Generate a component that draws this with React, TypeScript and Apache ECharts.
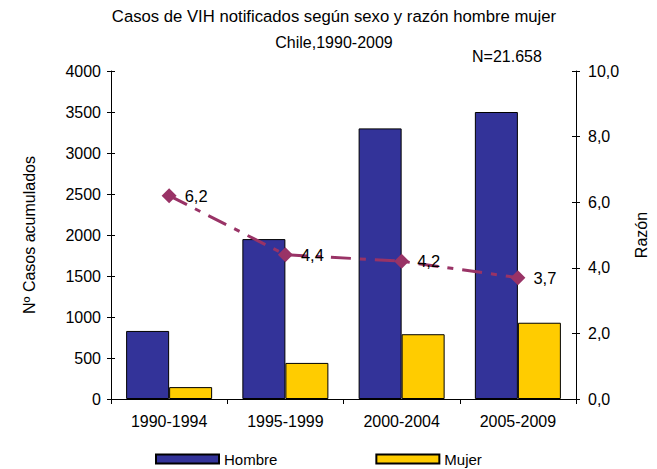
import React, { useEffect, useRef } from "react";
import * as echarts from "echarts";

const categories = ["1990-1994", "1995-1999", "2000-2004", "2005-2009"];
const hombre = [830, 1950, 3300, 3500];
const mujer = [145, 440, 790, 930];
const razon = [6.2, 4.4, 4.2, 3.7];
const titleLine1 = "Casos de VIH notificados según sexo y razón hombre mujer";
const titleLine2 = "Chile,1990-2009";
const nLabel = "N=21.658";

const FONT = "Liberation Sans, Arial, sans-serif";

export default function App() {
  const ref = useRef<HTMLDivElement>(null);
  useEffect(() => {
    document.body.style.margin = "0";
    const chart = echarts.init(ref.current!, null, { renderer: "svg" });
    const axisText = { color: "#000", fontSize: 16, fontFamily: FONT };
    const innerTicks = (pos: "left" | "right", max: number, interval: number) => ({
      type: "value",
      position: pos,
      min: 0,
      max,
      interval,
      axisLine: { show: false },
      axisTick: { show: true, inside: true, length: 4, lineStyle: { color: "#000" } },
      axisLabel: { show: false },
      splitLine: { show: false },
    });
    chart.setOption({
      animation: false,
      backgroundColor: "#fff",
      textStyle: { fontFamily: FONT },
      graphic: [
        { type: "text", x: 334, y: 8, style: { text: titleLine1, fontSize: 16.7, fontFamily: FONT, fill: "#000", textAlign: "center" } },
        { type: "text", x: 334, y: 34, style: { text: titleLine2, fontSize: 16, fontFamily: FONT, fill: "#000", textAlign: "center" } },
        { type: "text", x: 472, y: 48, style: { text: nLabel, fontSize: 16, fontFamily: FONT, fill: "#000" } },
      ],
      legend: {
        left: 155,
        top: 451,
        padding: 0,
        itemWidth: 63,
        itemHeight: 9,
        itemGap: 98,
        textStyle: { color: "#000", fontSize: 15, fontFamily: FONT, lineHeight: 16, padding: [0, 0, 0, 0] },
        data: [
          { name: "Hombre", icon: "rect" },
          { name: "Mujer", icon: "rect" },
        ],
      },
      grid: { left: 111, right: 79, top: 71, bottom: 70 },
      xAxis: {
        type: "category",
        data: categories,
        axisLine: { lineStyle: { color: "#000", width: 1 } },
        axisTick: { show: true, length: 5, lineStyle: { color: "#000" } },
        axisLabel: { ...axisText, margin: 14 },
      },
      yAxis: [
        {
          type: "value",
          position: "left",
          min: 0,
          max: 4000,
          interval: 500,
          name: "Nº Casos acumulados",
          nameLocation: "middle",
          nameRotate: 90,
          nameGap: 74,
          nameTextStyle: { color: "#000", fontSize: 16, fontFamily: FONT },
          axisLine: { show: true, lineStyle: { color: "#000" } },
          axisTick: { show: true, length: 4, lineStyle: { color: "#000" } },
          axisLabel: { ...axisText, margin: 10, formatter: (v: number) => String(v) },
          splitLine: { show: false },
        },
        {
          type: "value",
          position: "right",
          min: 0,
          max: 10,
          interval: 2,
          name: "Razón",
          nameLocation: "middle",
          nameRotate: 90,
          nameGap: 57,
          nameTextStyle: { color: "#000", fontSize: 16, fontFamily: FONT },
          axisLine: { show: true, lineStyle: { color: "#000" } },
          axisTick: { show: true, length: 4, lineStyle: { color: "#000" } },
          axisLabel: { ...axisText, margin: 12, formatter: (v: number) => v.toFixed(1).replace(".", ",") },
          splitLine: { show: false },
        },
        innerTicks("left", 4000, 500),
        innerTicks("right", 10, 2),
      ],
      series: [
        {
          name: "Hombre",
          type: "bar",
          data: hombre,
          barGap: "0%",
          barCategoryGap: "26%",
          itemStyle: { color: "#333399", borderColor: "#000", borderWidth: 1 },
        },
        {
          name: "Mujer",
          type: "bar",
          data: mujer,
          itemStyle: { color: "#FFCC00", borderColor: "#000", borderWidth: 1 },
        },
        {
          name: "Razón",
          type: "line",
          yAxisIndex: 1,
          data: razon,
          symbol: "diamond",
          symbolSize: 15,
          itemStyle: { color: "#993366" },
          lineStyle: { color: "#993366", width: 3, type: [20, 9, 6, 9] },
          label: {
            show: true,
            position: "right",
            distance: 8,
            color: "#000",
            fontSize: 16.5,
            fontFamily: FONT,
            formatter: (p: any) => String(p.value).replace(".", ","),
          },
          z: 5,
        },
      ],
    });
    return () => chart.dispose();
  }, []);
  return <div ref={ref} style={{ width: 657, height: 469 }} />;
}
